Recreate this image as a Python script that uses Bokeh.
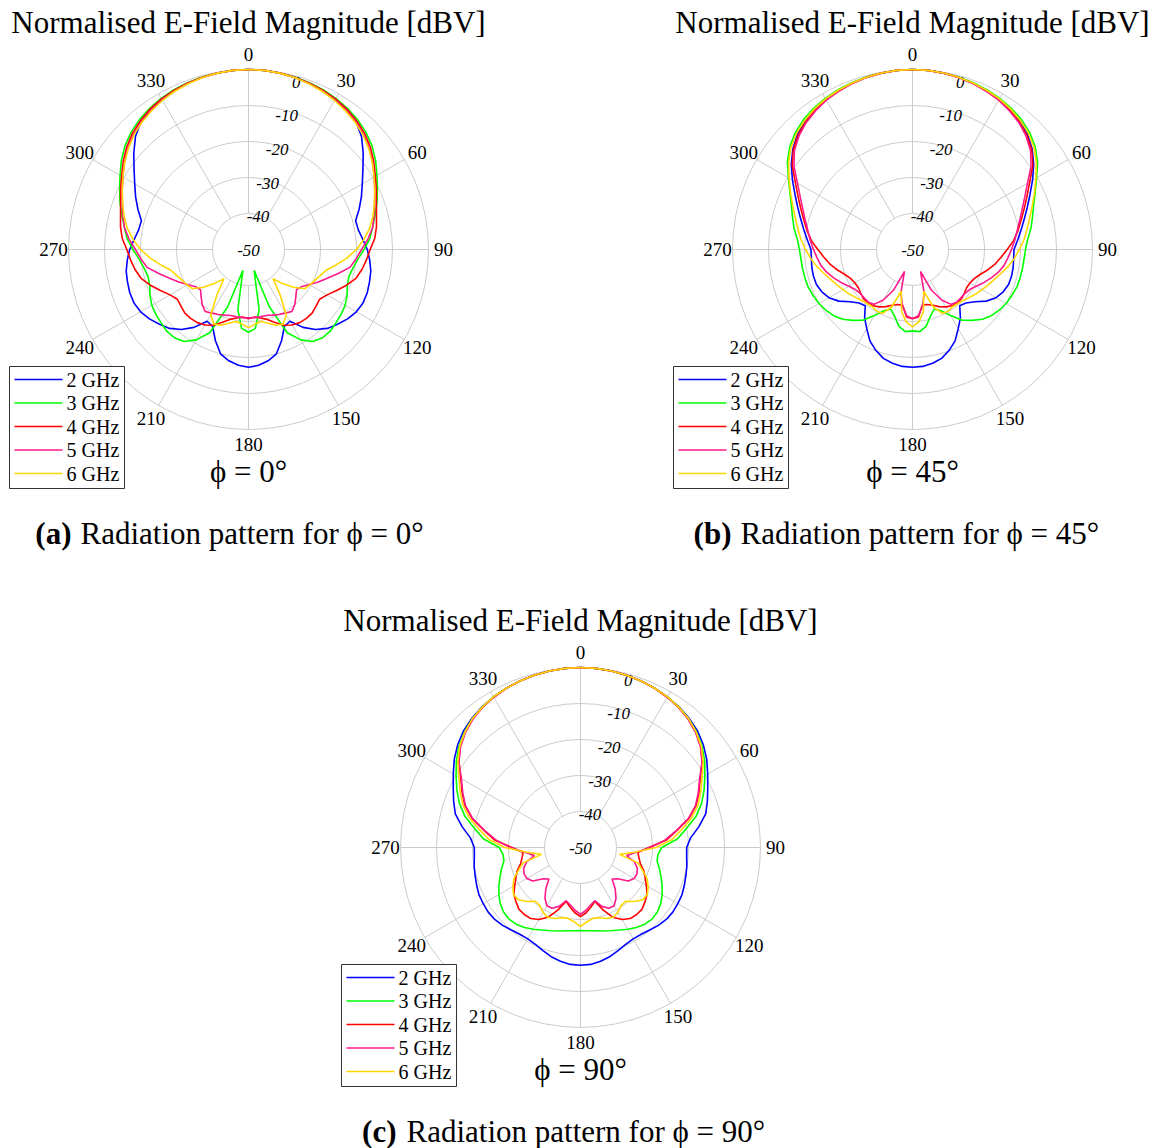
import math
from bokeh.plotting import figure
from bokeh.models import Range1d
from bokeh.core.properties import value
from bokeh.embed import file_html
from bokeh.resources import INLINE

# ---------------- data ----------------
ANGLES = list(range(0, 360, 5))          # degrees, clockwise from top
FREQ_LABELS = ["2 GHz", "3 GHz", "4 GHz", "5 GHz", "6 GHz"]
COLORS = ["#0000ff", "#00ff00", "#ff0000", "#ff1a8c", "#ffd700"]
RING_DB = [-40, -30, -20, -10, 0]
RADIAL_TICKS = [-50, -40, -30, -20, -10, 0]
ANGLE_TICKS = list(range(0, 360, 30))
PHI_VALUES = ["0", "45", "90"]
TITLE = "Normalised E-Field Magnitude [dBV]"

# phi = 0 deg
A_2GHZ = [0, -0.05, -0.2, -0.45, -0.8, -1.2, -1.7, -2.4, -3.6, -5.6, -8.4, -11.2, -13.5, -15.4, -17.3, -19.2, -19.0, -18.1, -17.0, -16.2, -15.5, -15.2, -14.9, -14.9, -15.4, -16.4, -17.7, -19.0, -21.0, -23.6, -27.0, -26.4, -23.1, -20.0, -18.6, -17.7, -17.3,
          -17.7, -18.6, -20.0, -23.1, -26.4, -27.0, -23.6, -21.0, -19.0, -17.7, -16.4, -15.4, -14.9, -14.9, -15.2, -15.5, -16.2, -17.0, -18.1, -19.0, -19.2, -17.3, -15.4, -13.5, -11.2, -8.4, -5.6, -3.6, -2.4, -1.7, -1.2, -0.8, -0.45, -0.2, -0.05]
A_3GHZ = [0, -0.05, -0.2, -0.4, -0.7, -1.0, -1.5, -2.1, -2.9, -3.9, -5.2, -6.9, -8.8, -10.5, -12.0, -13.6, -15.0, -16.2, -17.9, -19.5, -20.5, -21.1, -20.8, -19.8, -19.0, -18.6, -18.3, -17.9, -18.0, -18.8, -21.0, -24.5, -33.0, -44.0, -33.0, -28.0, -27.0,
          -28.0, -33.0, -44.0, -33.0, -24.5, -21.0, -18.8, -18.0, -17.9, -18.3, -18.6, -19.0, -19.8, -20.8, -21.1, -20.5, -19.5, -17.9, -16.2, -15.0, -13.6, -12.0, -10.5, -8.8, -6.9, -5.2, -3.9, -2.9, -2.1, -1.5, -1.0, -0.7, -0.4, -0.2, -0.05]
A_4GHZ = [0, -0.05, -0.2, -0.45, -0.8, -1.2, -1.7, -2.4, -3.3, -4.4, -5.8, -7.5, -9.3, -10.8, -12.2, -13.2, -13.9, -14.8, -16.2, -17.1, -18.0, -19.1, -21.0, -23.0, -24.8, -25.9, -25.5, -25.0, -25.0, -25.2, -25.8, -26.8, -28.4, -29.9, -30.7, -31.2, -30.8,
          -31.2, -30.7, -29.9, -28.4, -26.8, -25.8, -25.2, -25.0, -25.0, -25.5, -25.9, -24.8, -23.0, -21.0, -19.1, -18.0, -17.1, -16.2, -14.8, -13.9, -13.2, -12.2, -10.8, -9.3, -7.5, -5.8, -4.4, -3.3, -2.4, -1.7, -1.2, -0.8, -0.45, -0.2, -0.05]
A_5GHZ = [0, -0.05, -0.25, -0.5, -0.9, -1.4, -2.0, -2.8, -3.7, -4.8, -6.2, -7.9, -9.7, -11.3, -12.7, -13.9, -15.0, -16.7, -18.6, -20.0, -21.4, -24.2, -26.7, -28.6, -30.5, -32.0, -32.6, -31.4, -30.0, -29.0, -29.6, -30.1, -30.6, -31.0, -31.0, -31.0, -31.0,
          -31.0, -31.0, -31.0, -30.6, -30.1, -29.6, -29.0, -30.0, -31.4, -32.6, -32.0, -30.5, -28.6, -26.7, -24.2, -21.4, -20.0, -18.6, -16.7, -15.0, -13.9, -12.7, -11.3, -9.7, -7.9, -6.2, -4.8, -3.7, -2.8, -2.0, -1.4, -0.9, -0.5, -0.25, -0.05]
A_6GHZ = [0, -0.05, -0.25, -0.55, -1.0, -1.5, -2.2, -3.0, -3.9, -5.0, -6.4, -8.0, -9.7, -11.3, -12.8, -14.2, -15.8, -17.8, -20.0, -22.6, -25.3, -27.7, -28.8, -29.7, -30.3, -31.0, -33.7, -36.6, -39.4, -34.8, -29.0, -27.2, -27.6, -28.8, -29.7, -29.2, -28.3,
          -29.2, -29.7, -28.8, -27.6, -27.2, -29.0, -34.8, -39.4, -36.6, -33.7, -31.0, -30.3, -29.7, -28.8, -27.7, -25.3, -22.6, -20.0, -17.8, -15.8, -14.2, -12.8, -11.3, -9.7, -8.0, -6.4, -5.0, -3.9, -3.0, -2.2, -1.5, -1.0, -0.55, -0.25, -0.05]

# phi = 45 deg
B_2GHZ = [0, -0.05, -0.2, -0.45, -0.8, -1.2, -1.75, -2.5, -3.5, -4.8, -6.6, -8.9, -11.5, -14.0, -16.1, -17.9, -19.4, -20.7, -21.8, -21.8, -21.6, -21.5, -21.6, -22.2, -23.2, -25.0, -27.4, -29.0, -29.6, -26.8, -24.6, -22.0, -20.2, -18.7, -17.9, -17.4, -17.3,
          -17.4, -17.9, -18.7, -20.2, -22.0, -24.6, -26.8, -29.6, -29.0, -27.4, -25.0, -23.2, -22.2, -21.6, -21.5, -21.6, -21.8, -21.8, -20.7, -19.4, -17.9, -16.1, -14.0, -11.5, -8.9, -6.6, -4.8, -3.5, -2.5, -1.75, -1.2, -0.8, -0.45, -0.2, -0.05]
B_3GHZ = [0, -0.05, -0.2, -0.4, -0.7, -1.05, -1.5, -2.1, -2.9, -4.0, -5.5, -7.6, -10.2, -12.4, -14.2, -15.5, -16.6, -17.9, -18.6, -18.9, -19.0, -19.1, -19.2, -19.6, -20.0, -20.6, -21.4, -22.6, -24.3, -26.0, -28.8, -31.2, -32.4, -30.8, -28.3, -27.1, -27.4,
          -27.1, -28.3, -30.8, -32.4, -31.2, -28.8, -26.0, -24.3, -22.6, -21.4, -20.6, -20.0, -19.6, -19.2, -19.1, -19.0, -18.9, -18.6, -17.9, -16.6, -15.5, -14.2, -12.4, -10.2, -7.6, -5.5, -4.0, -2.9, -2.1, -1.5, -1.05, -0.7, -0.4, -0.2, -0.05]
B_4GHZ = [0, -0.05, -0.25, -0.5, -0.9, -1.4, -2.0, -2.8, -3.8, -5.1, -6.8, -9.2, -12.4, -14.9, -17.0, -18.8, -20.3, -21.8, -23.7, -25.3, -26.7, -28.3, -29.9, -31.0, -31.5, -31.6, -31.2, -30.7, -30.7, -30.9, -31.6, -32.5, -33.5, -34.2, -34.3, -31.2, -30.8,
          -31.2, -34.3, -34.2, -33.5, -32.5, -31.6, -30.9, -30.7, -30.7, -31.2, -31.6, -31.5, -31.0, -29.9, -28.3, -26.7, -25.3, -23.7, -21.8, -20.3, -18.8, -17.0, -14.9, -12.4, -9.2, -6.8, -5.1, -3.8, -2.8, -2.0, -1.4, -0.9, -0.5, -0.25, -0.05]
B_5GHZ = [0, -0.05, -0.25, -0.55, -0.95, -1.5, -2.1, -3.0, -4.0, -5.4, -7.2, -9.8, -13.1, -15.6, -17.6, -19.2, -20.5, -21.5, -22.5, -23.4, -24.2, -25.4, -26.8, -28.2, -29.6, -30.6, -31.0, -31.0, -30.9, -31.4, -33.8, -37.5, -43.5, -37.5, -34.0, -31.5, -30.8,
          -31.5, -34.0, -37.5, -43.5, -37.5, -33.8, -31.4, -30.9, -31.0, -31.0, -30.6, -29.6, -28.2, -26.8, -25.4, -24.2, -23.4, -22.5, -21.5, -20.5, -19.2, -17.6, -15.6, -13.1, -9.8, -7.2, -5.4, -4.0, -3.0, -2.1, -1.5, -0.95, -0.55, -0.25, -0.05]
B_6GHZ = [0, -0.05, -0.2, -0.45, -0.8, -1.2, -1.7, -2.4, -3.3, -4.4, -5.9, -8.0, -10.4, -12.6, -14.6, -16.3, -17.7, -18.9, -20.3, -21.6, -23.0, -24.5, -25.8, -26.8, -27.7, -28.5, -29.3, -30.0, -30.4, -30.6, -30.2, -30.4, -33.0, -38.0, -32.5, -29.8, -28.5,
          -29.8, -32.5, -38.0, -33.0, -30.4, -30.2, -30.6, -30.4, -30.0, -29.3, -28.5, -27.7, -26.8, -25.8, -24.5, -23.0, -21.6, -20.3, -18.9, -17.7, -16.3, -14.6, -12.6, -10.4, -8.0, -5.9, -4.4, -3.3, -2.4, -1.7, -1.2, -0.8, -0.45, -0.2, -0.05]

# phi = 90 deg
C_2GHZ = [0, -0.05, -0.2, -0.45, -0.8, -1.2, -1.7, -2.3, -3.1, -4.1, -5.5, -7.2, -9.2, -11.0, -12.5, -14.0, -16.6, -19.3, -20.5, -20.4, -20.0, -19.7, -19.3, -18.9, -18.8, -18.7, -18.9, -19.4, -20.1, -20.6, -20.7, -20.3, -19.5, -18.6, -17.9, -17.4, -17.3,
          -17.4, -17.9, -18.6, -19.5, -20.3, -20.7, -20.6, -20.1, -19.4, -18.9, -18.7, -18.8, -18.9, -19.3, -19.7, -20.0, -20.4, -20.5, -19.3, -16.6, -14.0, -12.5, -11.0, -9.2, -7.2, -5.5, -4.1, -3.1, -2.3, -1.7, -1.2, -0.8, -0.45, -0.2, -0.05]
C_3GHZ = [0, -0.05, -0.2, -0.45, -0.8, -1.2, -1.7, -2.4, -3.3, -4.5, -6.0, -7.9, -10.1, -12.1, -14.2, -16.8, -20.2, -23.0, -27.4, -28.4, -28.4, -27.3, -26.2, -25.0, -23.8, -22.8, -22.1, -21.9, -22.2, -22.9, -23.8, -24.7, -25.4, -26.0, -26.5, -26.8, -26.9,
          -26.8, -26.5, -26.0, -25.4, -24.7, -23.8, -22.9, -22.2, -21.9, -22.1, -22.8, -23.8, -25.0, -26.2, -27.3, -28.4, -28.4, -27.4, -23.0, -20.2, -16.8, -14.2, -12.1, -10.1, -7.9, -6.0, -4.5, -3.3, -2.4, -1.7, -1.2, -0.8, -0.45, -0.2, -0.05]
C_4GHZ = [0, -0.05, -0.2, -0.45, -0.8, -1.2, -1.8, -2.5, -3.4, -4.7, -6.4, -8.7, -11.6, -13.7, -15.8, -18.8, -22.8, -26.0, -31.0, -34.0, -33.5, -32.8, -31.3, -30.2, -28.9, -27.4, -26.6, -25.8, -25.7, -25.9, -26.9, -28.6, -31.5, -34.5, -33.2, -31.8, -30.8,
          -31.8, -33.2, -34.5, -31.5, -28.6, -26.9, -25.9, -25.7, -25.8, -26.6, -27.4, -28.9, -30.2, -31.3, -32.8, -33.5, -34.0, -31.0, -26.0, -22.8, -18.8, -15.8, -13.7, -11.6, -8.7, -6.4, -4.7, -3.4, -2.5, -1.8, -1.2, -0.8, -0.45, -0.2, -0.05]
C_5GHZ = [0, -0.05, -0.2, -0.45, -0.8, -1.2, -1.8, -2.5, -3.5, -4.8, -6.5, -8.8, -11.8, -13.9, -16.0, -19.0, -23.0, -26.5, -30.5, -34.5, -37.0, -34.5, -33.2, -32.7, -32.8, -33.8, -36.5, -37.6, -35.0, -32.8, -31.3, -31.4, -32.6, -34.7, -33.8, -32.5, -31.4,
          -32.5, -33.8, -34.7, -32.6, -31.4, -31.3, -32.8, -35.0, -37.6, -36.5, -33.8, -32.8, -32.7, -33.2, -34.5, -37.0, -34.5, -30.5, -26.5, -23.0, -19.0, -16.0, -13.9, -11.8, -8.8, -6.5, -4.8, -3.5, -2.5, -1.8, -1.2, -0.8, -0.45, -0.2, -0.05]
C_6GHZ = [0, -0.05, -0.2, -0.45, -0.8, -1.2, -1.7, -2.4, -3.3, -4.6, -6.2, -8.4, -11.0, -13.1, -15.2, -18.0, -21.5, -24.5, -29.0, -35.0, -39.0, -33.5, -31.7, -29.6, -28.3, -27.3, -27.4, -28.8, -30.5, -30.3, -29.2, -28.6, -29.0, -29.8, -30.0, -29.3, -28.0,
          -29.3, -30.0, -29.8, -29.0, -28.6, -29.2, -30.3, -30.5, -28.8, -27.4, -27.3, -28.3, -29.6, -31.7, -33.5, -39.0, -35.0, -29.0, -24.5, -21.5, -18.0, -15.2, -13.1, -11.0, -8.4, -6.2, -4.6, -3.3, -2.4, -1.7, -1.2, -0.8, -0.45, -0.2, -0.05]

PANEL_SERIES = [
    [A_2GHZ, A_3GHZ, A_4GHZ, A_5GHZ, A_6GHZ],
    [B_2GHZ, B_3GHZ, B_4GHZ, B_5GHZ, B_6GHZ],
    [C_2GHZ, C_3GHZ, C_4GHZ, C_5GHZ, C_6GHZ],
]
for grp in PANEL_SERIES:
    for s in grp:
        assert len(s) == len(ANGLES), len(s)

# ---------------- layout ----------------
W, H = 1157, 1148
CENTERS = [(248, 249), (912, 249), (580, 847)]
CAPTION_X = [(71, 80), (731, 740), (396, 406)]
CAPTION_TAGS = ["(a)", "(b)", "(c)"]
DB_MIN = -50
PX_PER_DB = 3.6
LABEL_R = 195
GRID = "#cbcbcb"
FONT = "Liberation Serif"


def radius(db):
    return max(db - DB_MIN, 0.0) * PX_PER_DB


def to_xy(cx, cy, theta, db):
    r = radius(db)
    t = math.radians(theta)
    return cx + r * math.sin(t), cy - r * math.cos(t)


p = figure(width=W, height=H, x_range=Range1d(0, W), y_range=Range1d(H, 0),
           output_backend="svg", toolbar_location=None,
           x_axis_location=None, y_axis_location=None,
           min_border=0, outline_line_color=None)
p.grid.visible = False
p.background_fill_color = "white"
p.border_fill_color = "white"

for k, (cx, cy) in enumerate(CENTERS):
    # rings
    p.circle(x=[cx] * len(RING_DB), y=[cy] * len(RING_DB),
             radius=[radius(d) for d in RING_DB],
             fill_color=None, line_color=GRID, line_width=1)
    # spokes
    x0, y0, x1, y1 = [], [], [], []
    for a in ANGLE_TICKS:
        xa, ya = to_xy(cx, cy, a, RING_DB[0])
        xb, yb = to_xy(cx, cy, a, RING_DB[-1])
        x0.append(xa); y0.append(ya); x1.append(xb); y1.append(yb)
    p.segment(x0=x0, y0=y0, x1=x1, y1=y1, line_color=GRID, line_width=1)

    # angle labels
    lx = [cx + LABEL_R * math.sin(math.radians(a)) for a in ANGLE_TICKS]
    ly = [cy - LABEL_R * math.cos(math.radians(a)) for a in ANGLE_TICKS]
    p.text(x=lx, y=ly, text=[str(a) for a in ANGLE_TICKS],
           text_align="center", text_baseline="middle",
           text_font=value(FONT), text_font_size=value("19px"), text_color="black")

    # radial labels
    rx = [cx + 0.265 * radius(d) for d in RADIAL_TICKS]
    ry = [cy - (0.935 * radius(d) - 1) for d in RADIAL_TICKS]
    p.text(x=rx, y=ry, text=[str(d) for d in RADIAL_TICKS],
           text_align="center", text_baseline="middle",
           text_font=value(FONT), text_font_style="italic",
           text_font_size=value("17px"), text_color="black")

    # curves
    for s, col in zip(PANEL_SERIES[k], COLORS):
        pts = [to_xy(cx, cy, a, d) for a, d in zip(ANGLES, s)]
        pts.append(pts[0])
        p.line(x=[q[0] for q in pts], y=[q[1] for q in pts],
               line_color=col, line_width=1.6)

    # title
    p.text(x=[cx], y=[cy - 227], text=[TITLE], text_align="center",
           text_baseline="middle", text_font=value(FONT),
           text_font_size=value("31px"), text_color="black")
    # phi label
    p.text(x=[cx], y=[cy + 222], text=["\u03d5 = " + PHI_VALUES[k] + "\u00b0"],
           text_align="center", text_baseline="middle", text_font=value(FONT),
           text_font_size=value("31px"), text_color="black")

    # legend
    p.quad(left=[cx - 239], right=[cx - 124], top=[cy + 117], bottom=[cy + 239],
           fill_color="white", line_color="#333333", line_width=1)
    ey = [cy + 130 + 23.5 * i for i in range(len(FREQ_LABELS))]
    p.segment(x0=[cx - 234] * 5, x1=[cx - 186] * 5, y0=ey, y1=ey,
              line_color=COLORS, line_width=1.6)
    p.text(x=[cx - 182] * 5, y=ey, text=FREQ_LABELS, text_align="left",
           text_baseline="middle", text_font=value(FONT),
           text_font_size=value("20px"), text_color="black")

    # caption
    tx, rx2 = CAPTION_X[k]
    p.text(x=[tx], y=[cy + 284], text=[CAPTION_TAGS[k]], text_align="right",
           text_baseline="middle", text_font=value(FONT), text_font_style="bold",
           text_font_size=value("31px"), text_color="black")
    p.text(x=[rx2], y=[cy + 284],
           text=["Radiation pattern for \u03d5 = " + PHI_VALUES[k] + "\u00b0"],
           text_align="left", text_baseline="middle", text_font=value(FONT),
           text_font_size=value("31px"), text_color="black")

open("out.html", "w").write(file_html(p, INLINE))
